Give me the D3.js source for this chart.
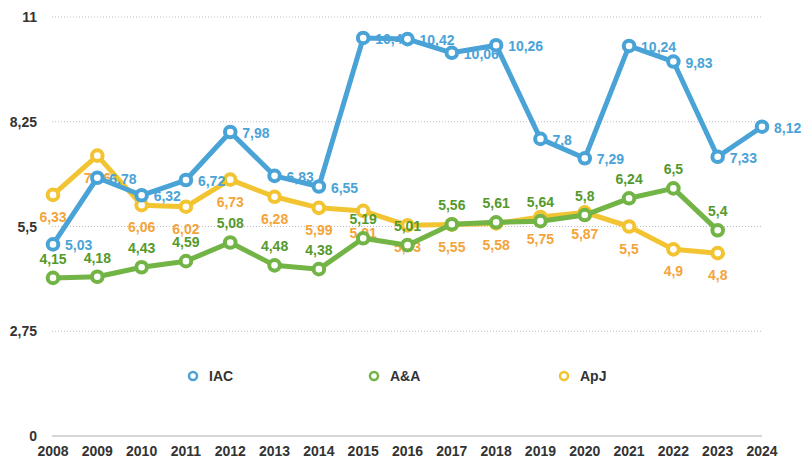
<html>
<head>
<style>
    body {
        margin: 0;
        background: #ffffff;
        font-family: Helvetica, Arial, "Liberation Sans", sans-serif;
    }
</style>
<script src="https://d3js.org/d3.v7.min.js"></script>
</head>
<body>
<svg id="chart"></svg>
<script>

// data
let years = [2008, 2009, 2010, 2011, 2012, 2013, 2014, 2015, 2016,
             2017, 2018, 2019, 2020, 2021, 2022, 2023, 2024]
let iac = [5.03, 6.78, 6.32, 6.72, 7.98, 6.83, 6.55, 10.45, 10.42,
           10.06, 10.26, 7.8, 7.29, 10.24, 9.83, 7.33, 8.12]
let aa = [4.15, 4.18, 4.43, 4.59, 5.08, 4.48, 4.38, 5.19, 5.01,
          5.56, 5.61, 5.64, 5.8, 6.24, 6.5, 5.4]
let apj = [6.33, 7.36, 6.06, 6.02, 6.73, 6.28, 5.99, 5.91, 5.53,
           5.55, 5.58, 5.75, 5.87, 5.5, 4.9, 4.8]
let yTicks = [0, 2.75, 5.5, 8.25, 11]

let series = [
  {name: "ApJ", values: apj, line: "#f2c431", text: "#f3a43a", pos: "below", legendX: 564},
  {name: "A&A", values: aa, line: "#73b446", text: "#55992d", pos: "above", legendX: 374},
  {name: "IAC", values: iac, line: "#4aa3d7", text: "#4aa3d7", pos: "right", legendX: 193}
]

let width = 802, height = 457
let svg = d3.select("#chart").attr("width", width).attr("height", height)

let x = d3.scalePoint().domain(years).range([53, 762])
let y = d3.scaleLinear().domain([0, 11]).range([436, 17])
let fmt = v => String(v).replace(".", ",")

// grid
svg.selectAll(".grid").data(yTicks.filter(d => d > 0))
  .enter().append("line")
  .attr("x1", 52).attr("x2", 762)
  .attr("y1", d => y(d)).attr("y2", d => y(d))
  .attr("stroke", "#bdbdbd").attr("stroke-width", 1)
  .attr("stroke-dasharray", "1,2")

svg.append("line")
  .attr("x1", 52).attr("x2", 762)
  .attr("y1", y(0)).attr("y2", y(0))
  .attr("stroke", "#c8c8c8").attr("stroke-width", 1.5)

// y labels
svg.selectAll(".ylab").data(yTicks)
  .enter().append("text")
  .attr("x", 37).attr("y", d => y(d) + 5)
  .attr("text-anchor", "end")
  .attr("font-size", 14).attr("font-weight", "bold")
  .attr("fill", "#333")
  .text(fmt)

// x labels
svg.selectAll(".xlab").data(years)
  .enter().append("text")
  .attr("x", d => x(d)).attr("y", 456)
  .attr("text-anchor", "middle")
  .attr("font-size", 14).attr("font-weight", "bold")
  .attr("fill", "#333")
  .text(d => d)

let line = d3.line()
  .x((d, i) => x(years[i]))
  .y(d => y(d))

series.forEach(s => {
  let g = svg.append("g")
  g.append("path")
    .attr("d", line(s.values))
    .attr("fill", "none")
    .attr("stroke", s.line)
    .attr("stroke-width", 5)
    .attr("stroke-linejoin", "round")

  g.selectAll("text").data(s.values)
    .enter().append("text")
    .attr("x", (d, i) => s.pos == "right" ? x(years[i]) + 12 : x(years[i]))
    .attr("y", d => s.pos == "right" ? y(d) + 6 : s.pos == "above" ? y(d) - 14 : y(d) + 27)
    .attr("text-anchor", s.pos == "right" ? "start" : "middle")
    .attr("font-size", 14).attr("font-weight", "bold")
    .attr("fill", s.text)
    .text(fmt)

  g.selectAll("circle").data(s.values)
    .enter().append("circle")
    .attr("cx", (d, i) => x(years[i]))
    .attr("cy", d => y(d))
    .attr("r", 5.3)
    .attr("fill", "#fff")
    .attr("stroke", s.line)
    .attr("stroke-width", 4)
})

// legend
let legend = svg.selectAll(".legend").data(series)
  .enter().append("g")
  .attr("transform", d => `translate(${d.legendX},376)`)

legend.append("circle")
  .attr("r", 4)
  .attr("fill", "#fff")
  .attr("stroke", d => d.line)
  .attr("stroke-width", 2.5)

legend.append("text")
  .attr("x", 16).attr("y", 5)
  .attr("font-size", 14).attr("font-weight", "bold")
  .attr("fill", "#333")
  .text(d => d.name)

</script>
</body>
</html>
